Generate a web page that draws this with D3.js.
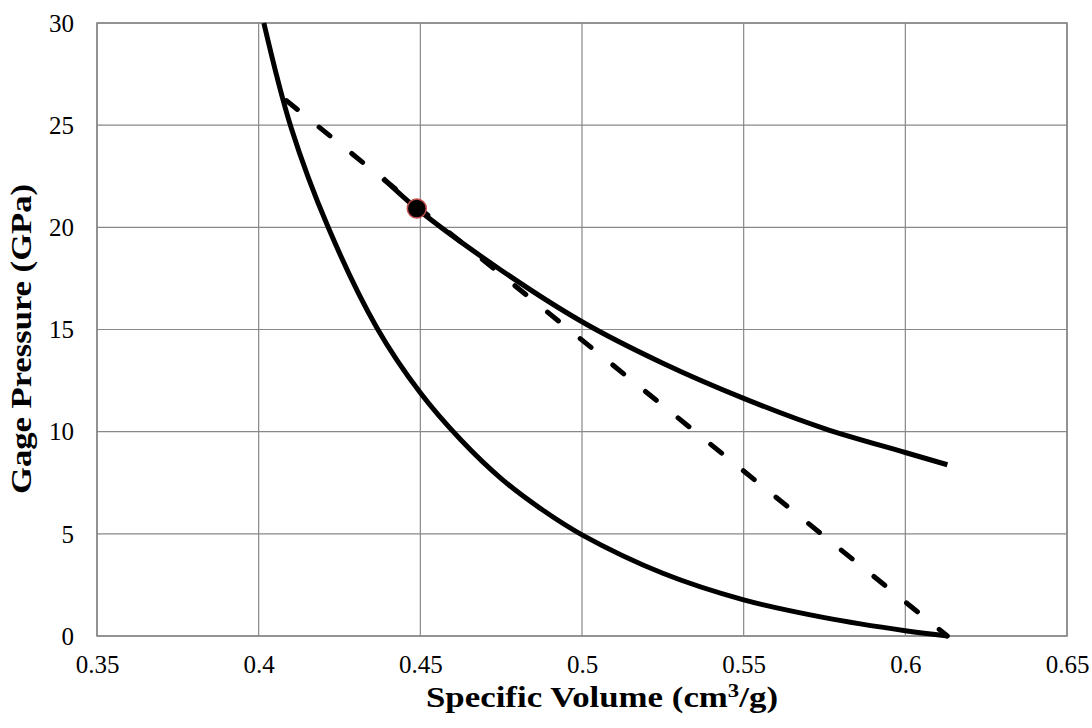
<!DOCTYPE html>
<html>
<head>
<meta charset="utf-8">
<script src="https://cdn.jsdelivr.net/npm/d3@7"></script>
<style>
  body { margin: 0; background: #fff; }
  text { font-family: "Liberation Serif", "Times New Roman", serif; fill: #000; }
</style>
</head>
<body>
<svg id="chart" width="1092" height="728"></svg>
<script>
// axis ticks
const xTicks = [0.35, 0.4, 0.45, 0.5, 0.55, 0.6, 0.65];
const yTicks = [0, 5, 10, 15, 20, 25, 30];

// lower solid curve
const lowerV = [0.4016, 0.41, 0.4215, 0.4365, 0.45, 0.4625, 0.475, 0.4875, 0.5, 0.525, 0.55, 0.575, 0.6, 0.6131];
const lowerP = [30, 24.9, 20, 15.1, 11.9, 9.6, 7.7, 6.2, 4.95, 3.07, 1.77, 0.9, 0.26, 0];

// upper solid curve
const upperV = [0.4385, 0.4489, 0.475, 0.5, 0.525, 0.55, 0.575, 0.6, 0.613];
const upperP = [22.4, 20.92, 17.9, 15.38, 13.35, 11.63, 10.15, 8.98, 8.38];

// dashed straight line
const dashV = [0.4086, 0.613];
const dashP = [26.2, 0];

// marked point
const pointV = [0.4489];
const pointP = [20.92];

const svg = d3.select("#chart");
const margin = { top: 23, right: 25, bottom: 92, left: 97 };
const width = 1092 - margin.left - margin.right,
      height = 728 - margin.top - margin.bottom;

const x = d3.scaleLinear().domain([0.35, 0.65]).range([0, width]);
const y = d3.scaleLinear().domain([0, 30]).range([height, 0]);

const g = svg.append("g")
    .attr("transform", "translate(" + margin.left + "," + margin.top + ")");

// gridlines
g.selectAll(".vgrid").data(xTicks).enter().append("line")
    .attr("x1", d => x(d)).attr("x2", d => x(d))
    .attr("y1", 0).attr("y2", height)
    .attr("stroke", "#888").attr("stroke-width", 1.2);
g.selectAll(".hgrid").data(yTicks).enter().append("line")
    .attr("x1", 0).attr("x2", width)
    .attr("y1", d => y(d)).attr("y2", d => y(d))
    .attr("stroke", "#888").attr("stroke-width", 1.2);

// plot border
g.append("rect")
    .attr("width", width).attr("height", height)
    .attr("fill", "none").attr("stroke", "#888").attr("stroke-width", 1.6);

// axes (labels only)
const xAxis = g.append("g")
    .attr("transform", "translate(0," + height + ")")
    .call(d3.axisBottom(x).tickValues(xTicks).tickSize(0).tickPadding(19).tickFormat(d => String(d)));
const yAxis = g.append("g")
    .call(d3.axisLeft(y).tickValues(yTicks).tickSize(0).tickPadding(23).tickFormat(d => String(d)));
[xAxis, yAxis].forEach(a => {
    a.select(".domain").remove();
    a.selectAll("text")
        .style("font-family", "'Liberation Serif', 'Times New Roman', serif")
        .style("font-size", "25px")
        .attr("fill", "#000");
});
yAxis.selectAll("text").attr("dy", "0.33em");

const line = d3.line()
    .x(d => x(d[0]))
    .y(d => y(d[1]))
    .curve(d3.curveCatmullRom.alpha(0.5));

const lowerData = lowerV.map((v, i) => [v, lowerP[i]]);
const upperData = upperV.map((v, i) => [v, upperP[i]]);
const dashData = dashV.map((v, i) => [v, dashP[i]]);

g.append("path").datum(dashData)
    .attr("d", d3.line().x(d => x(d[0])).y(d => y(d[1])))
    .attr("fill", "none").attr("stroke", "#000")
    .attr("stroke-width", 5).attr("stroke-linecap", "round")
    .attr("stroke-dasharray", "14,28");

g.append("path").datum(lowerData)
    .attr("d", line)
    .attr("fill", "none").attr("stroke", "#000").attr("stroke-width", 5);

g.append("path").datum(upperData)
    .attr("d", line)
    .attr("fill", "none").attr("stroke", "#000").attr("stroke-width", 5);

g.selectAll(".pt").data(pointV).enter().append("circle")
    .attr("cx", d => x(d))
    .attr("cy", (d, i) => y(pointP[i]))
    .attr("r", 9.5)
    .attr("fill", "#000").attr("stroke", "#c0504d").attr("stroke-width", 1.5);

// axis titles (the reference text is a bit stretched, so fix its length)
const xTitle = svg.append("text")
    .attr("x", 602)
    .attr("y", 707)
    .attr("text-anchor", "middle")
    .attr("textLength", 352)
    .attr("lengthAdjust", "spacingAndGlyphs")
    .style("font-size", "29px").style("font-weight", "bold");
xTitle.append("tspan").text("Specific Volume (cm");
xTitle.append("tspan").attr("baseline-shift", "super").style("font-size", "19px").text("3");
xTitle.append("tspan").text("/g)");

svg.append("text")
    .attr("transform", "translate(31,339) rotate(-90)")
    .attr("text-anchor", "middle")
    .attr("textLength", 310)
    .attr("lengthAdjust", "spacingAndGlyphs")
    .style("font-size", "30px").style("font-weight", "bold")
    .text("Gage Pressure (GPa)");
</script>
</body>
</html>
